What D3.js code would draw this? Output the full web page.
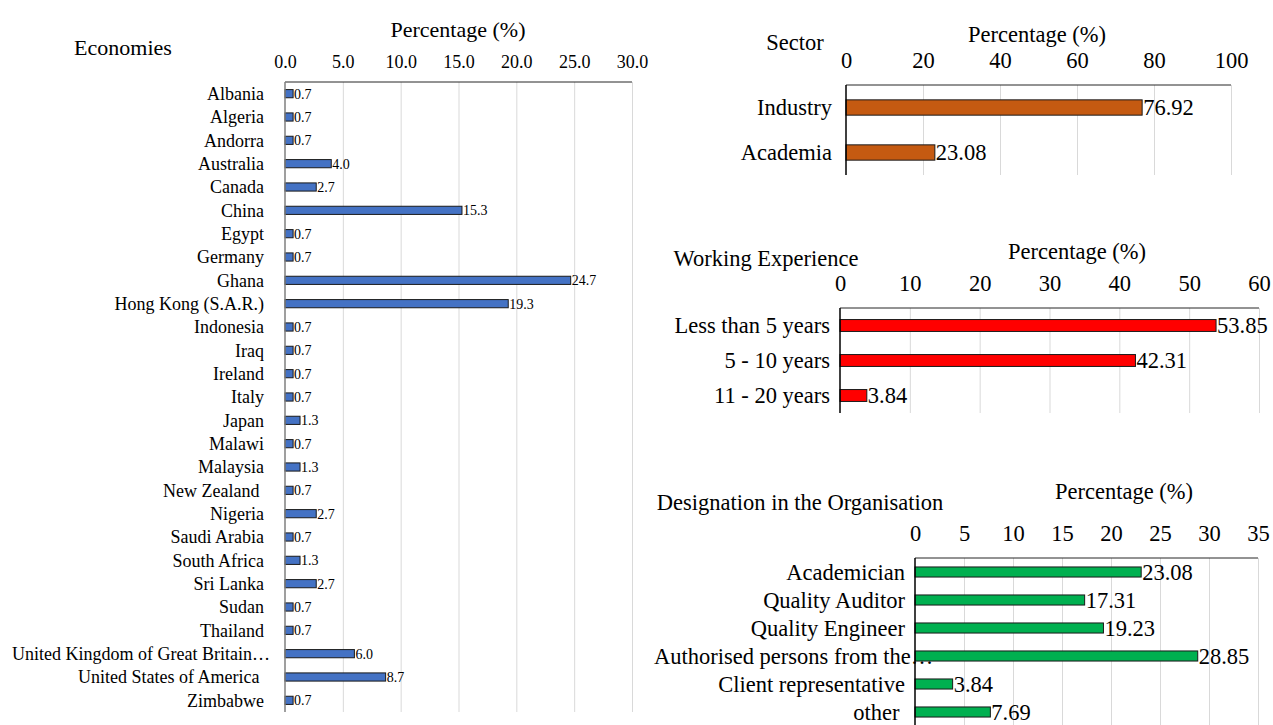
<!DOCTYPE html>
<html lang="en">
<head>
<meta charset="UTF-8">
<title>Survey respondents</title>
<script src="https://cdn.jsdelivr.net/npm/d3@7"></script>
<style>
  body { margin: 0; background: #fff; }
  svg text { font-family: "Liberation Serif", "Times New Roman", serif; fill: #000; white-space: pre; }
</style>
</head>
<body>
<svg id="chart" width="1273" height="725"></svg>
<script>
// ---- data ----
const econNames = ["Albania", "Algeria", "Andorra", "Australia", "Canada", "China", "Egypt", "Germany",
  "Ghana", "Hong Kong (S.A.R.)", "Indonesia", "Iraq", "Ireland", "Italy", "Japan", "Malawi", "Malaysia",
  "New Zealand ", "Nigeria", "Saudi Arabia", "South Africa", "Sri Lanka", "Sudan", "Thailand",
  "United Kingdom of Great Britain…", "United States of America ", "Zimbabwe"];
const econValues = [0.7, 0.7, 0.7, 4.0, 2.7, 15.3, 0.7, 0.7, 24.7, 19.3, 0.7, 0.7, 0.7, 0.7, 1.3, 0.7, 1.3,
  0.7, 2.7, 0.7, 1.3, 2.7, 0.7, 0.7, 6.0, 8.7, 0.7];
const econTicks = [0, 5, 10, 15, 20, 25, 30];

const sectorNames = ["Industry", "Academia"];
const sectorValues = [76.92, 23.08];
const sectorTicks = [0, 20, 40, 60, 80, 100];

const expNames = ["Less than 5 years", "5 - 10 years", "11 - 20 years"];
const expValues = [53.85, 42.31, 3.84];
const expTicks = [0, 10, 20, 30, 40, 50, 60];

const roleNames = ["Academician", "Quality Auditor", "Quality Engineer", "Authorised persons from the…",
  "Client representative", "other "];
const roleValues = [23.08, 17.31, 19.23, 28.85, 3.84, 7.69];
const roleTicks = [0, 5, 10, 15, 20, 25, 30, 35];

const svg = d3.select("#chart");

function panel(names, values, ticks, o) {
  const g = svg.append("g");
  const x = d3.scaleLinear().domain([0, ticks[ticks.length - 1]]).range([o.x0, o.x1]);
  const y = d3.scaleBand().domain(names).range([o.y0, o.y1])
    .paddingInner(o.pad).paddingOuter(o.pad / 2);

  // gridlines
  g.append("g")
    .attr("transform", `translate(0,${o.y0})`)
    .call(d3.axisBottom(x).tickValues(ticks.slice(1)).tickSize(o.y1 - o.y0).tickFormat(""))
    .call(a => a.select(".domain").remove())
    .call(a => a.selectAll("line").attr("stroke", "#d9d9d9"));

  // tick labels on top
  g.append("g")
    .attr("transform", `translate(0,${o.tickY})`)
    .call(d3.axisTop(x).tickValues(ticks).tickSize(0).tickPadding(0).tickFormat(d3.format(o.tickFmt)))
    .call(a => a.select(".domain").remove())
    .call(a => a.selectAll("text")
      .attr("dy", "0.35em")
      .attr("y", 0)
      .style("font-family", "Liberation Serif")
      .style("font-size", o.tickSize + "px")
      .attr("fill", "#000"));

  // top border
  g.append("line")
    .attr("x1", o.x0).attr("x2", o.x1).attr("y1", o.y0).attr("y2", o.y0)
    .attr("stroke", "#262626").attr("stroke-width", 1);

  // category labels (drawn under the bars, cut-off labels start at the left margin)
  g.selectAll("text.cat").data(names).join("text")
    .attr("class", "cat")
    .attr("x", d => d.endsWith("…") ? o.longX : o.labelX)
    .attr("y", d => y(d) + y.bandwidth() / 2)
    .attr("dy", "0.35em")
    .attr("text-anchor", d => d.endsWith("…") ? "start" : "end")
    .style("font-size", o.catSize + "px")
    .text(d => d);

  // bars
  g.selectAll("rect").data(values).join("rect")
    .attr("x", x(0))
    .attr("y", (d, i) => y(names[i]))
    .attr("width", d => x(d) - x(0))
    .attr("height", y.bandwidth())
    .attr("fill", o.color)
    .attr("stroke", "#1a1a1a")
    .attr("stroke-width", 1);

  // value labels
  g.selectAll("text.val").data(values).join("text")
    .attr("class", "val")
    .attr("x", d => x(d) + 1)
    .attr("y", (d, i) => y(names[i]) + y.bandwidth() / 2)
    .attr("dy", "0.35em")
    .style("font-size", o.valSize + "px")
    .text(d => d3.format(o.valFmt)(d));

  // vertical axis line
  g.append("line")
    .attr("x1", o.x0).attr("x2", o.x0).attr("y1", o.y0).attr("y2", o.y1)
    .attr("stroke", o.axisColor).attr("stroke-width", 1.5);

  // titles
  g.append("text").attr("x", o.pctX).attr("y", o.pctY).attr("dy", "0.35em")
    .attr("text-anchor", "middle").style("font-size", o.titleSize + "px").text("Percentage (%)");
  g.append("text").attr("x", o.titleX).attr("y", o.titleY).attr("dy", "0.35em")
    .attr("text-anchor", "middle").style("font-size", o.titleSize + "px").text(o.title);
}

panel(econNames, econValues, econTicks, {
  x0: 285, x1: 632, y0: 82, y1: 712, pad: 0.65, tickY: 62, tickFmt: ".1f", tickSize: 18,
  labelX: 264, longX: 12, catSize: 18, valSize: 14, valFmt: ".1f", color: "#4472C4",
  axisColor: "#7f7f7f", pctX: 458, pctY: 29, titleX: 123, titleY: 47, titleSize: 22, title: "Economies"
});

panel(sectorNames, sectorValues, sectorTicks, {
  x0: 846, x1: 1231, y0: 85, y1: 175, pad: 0.66, tickY: 60, tickFmt: "d", tickSize: 22.5,
  labelX: 832, longX: 654, catSize: 22.5, valSize: 22.5, valFmt: ".2f", color: "#C55A11",
  axisColor: "#000", pctX: 1037, pctY: 34, titleX: 795, titleY: 42, titleSize: 22.5, title: "Sector"
});

panel(expNames, expValues, expTicks, {
  x0: 840, x1: 1259, y0: 308, y1: 413, pad: 0.66, tickY: 283, tickFmt: "d", tickSize: 22.5,
  labelX: 830, longX: 654, catSize: 22.5, valSize: 22.5, valFmt: ".2f", color: "#FF0000",
  axisColor: "#000", pctX: 1077, pctY: 251, titleX: 766, titleY: 258, titleSize: 22.5, title: "Working Experience"
});

panel(roleNames, roleValues, roleTicks, {
  x0: 915, x1: 1258, y0: 558, y1: 726, pad: 0.64, tickY: 533, tickFmt: "d", tickSize: 22.5,
  labelX: 905, longX: 654, catSize: 22.5, valSize: 22.5, valFmt: ".2f", color: "#00B050",
  axisColor: "#000", pctX: 1124, pctY: 491, titleX: 800, titleY: 502, titleSize: 22.5,
  title: "Designation in the Organisation"
});
</script>
</body>
</html>
